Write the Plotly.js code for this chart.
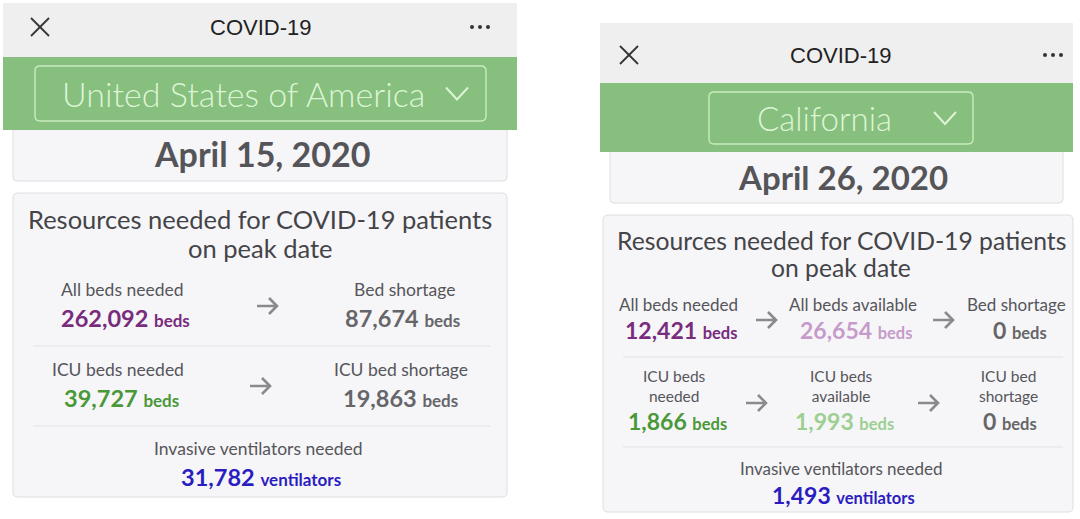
<!DOCTYPE html>
<html>
<head>
<meta charset="utf-8">
<script src="https://cdn.plot.ly/plotly-3.0.1.min.js"></script>
<style>
  html, body { margin: 0; padding: 0; background: #ffffff; }
  #chart { width: 1080px; height: 519px; }
</style>
</head>
<body>
<div id="chart"></div>
<script>
// ---------------- DATA ----------------
const appTitle = 'COVID-19';
const regions = ['United States of America', 'California'];
const peakDates = ['April 15, 2020', 'April 26, 2020'];
const cardTitle = ['Resources needed for COVID-19 patients', 'on peak date'];

const usBedLabels = ['All beds needed', 'Bed shortage'];
const usBedValues = [262092, 87674];
const usIcuLabels = ['ICU beds needed', 'ICU bed shortage'];
const usIcuValues = [39727, 19863];
const usVentLabel = 'Invasive ventilators needed';
const usVentValue = 31782;

const caBedLabels = ['All beds needed', 'All beds available', 'Bed shortage'];
const caBedValues = [12421, 26654, 0];
const caIcuLabels = ['ICU beds<br>needed', 'ICU beds<br>available', 'ICU bed<br>shortage'];
const caIcuValues = [1866, 1993, 0];
const caVentLabel = 'Invasive ventilators needed';
const caVentValue = 1493;

const bedUnit = 'beds';
const ventUnit = 'ventilators';

// ---------------- STYLE / LAYOUT ----------------
const FONT = 'Lato, "Open Sans", sans-serif';
const C = {
  bar: '#efeff0', green: '#86bf7e', boxLine: '#c9ecc0', boxText: '#def5d5',
  card: '#f6f6f8', cardLine: '#dedee2', sep: '#e2e2e6',
  title: '#444448', label: '#55555a', date: '#555559',
  purple: '#792b7d', lpurple: '#c69bcb', dgreen: '#4a9838', lgreen: '#9dcf93',
  gray: '#66666a', blue: '#2b1dbf', arrow: '#8a8a8e'
};
const fmt = v => v.toLocaleString('en-US');

const shapes = [];
const annotations = [];

function rect(x0, y0, x1, y1, fill, line, lw, r) {
  if (r) {
    const p = `M${x0 + r},${y0} L${x1 - r},${y0} Q${x1},${y0} ${x1},${y0 + r} L${x1},${y1 - r} Q${x1},${y1} ${x1 - r},${y1} L${x0 + r},${y1} Q${x0},${y1} ${x0},${y1 - r} L${x0},${y0 + r} Q${x0},${y0} ${x0 + r},${y0} Z`;
    shapes.push({ type: 'path', xref: 'x', yref: 'y', path: p, fillcolor: fill, line: { color: line || 'rgba(0,0,0,0)', width: lw || 0 }, layer: 'below' });
  } else {
    shapes.push({ type: 'rect', xref: 'x', yref: 'y', x0, y0, x1, y1, fillcolor: fill, line: { color: line || 'rgba(0,0,0,0)', width: lw || 0 }, layer: 'below' });
  }
}
function line(x0, y0, x1, y1, color, w) {
  shapes.push({ type: 'line', xref: 'x', yref: 'y', x0, y0, x1, y1, line: { color, width: w } });
}
function path(p, color, w) {
  shapes.push({ type: 'path', xref: 'x', yref: 'y', path: p, line: { color, width: w }, fillcolor: 'rgba(0,0,0,0)' });
}
function text(x, y, t, size, color, weight, family) {
  annotations.push({ xref: 'x', yref: 'y', x, y, text: t, showarrow: false, xanchor: 'center', yanchor: 'middle',
    font: { family: family || FONT, size, color, weight: weight || 400 } });
}
function value(x, y, v, unit, color, numSize, unitSize) {
  text(x, y, `<b>${fmt(v)}</b> <span style="font-size:${unitSize}px;font-weight:bold">${unit}</span>`, numSize, color, 700);
}
function arrow(x, y) {
  path(`M${x - 10},${y} L${x + 10},${y} M${x + 2},${y - 8} L${x + 10},${y} L${x + 2},${y + 8}`, C.arrow, 2.6);
}

// ---- panel header builder
function header(p) {
  // date card first (its top is hidden under the green band)
  rect(p.x0 + 10, p.yBandEnd - 8, p.x1 - 10, p.dateY1, C.card, C.cardLine, 1, 4);
  rect(p.x0, p.y0, p.x1, p.yBand, C.bar);
  rect(p.x0, p.yBand, p.x1, p.yBandEnd, C.green);
  // close X
  const xx = p.closeX, xy = p.iconY;
  line(xx - 9, xy - 9, xx + 9, xy + 9, '#333', 1.8);
  line(xx - 9, xy + 9, xx + 9, xy - 9, '#333', 1.8);
  // dots
  for (let i = 0; i < 3; i++) {
    const cx = p.dotsX + (i - 1) * 8;
    shapes.push({ type: 'circle', xref: 'x', yref: 'y', x0: cx - 2, x1: cx + 2, y0: xy - 2, y1: xy + 2, fillcolor: '#333', line: { width: 0 } });
  }
  text(p.titleX, xy, appTitle, 22, '#222', 400, '"Liberation Sans", Arimo, sans-serif');
  // region selector box
  const b = p.box;
  rect(b.x0, b.y0, b.x1, b.y1, 'rgba(0,0,0,0)', C.boxLine, 1.4, 5);
  const cy = (b.y0 + b.y1) / 2;
  text(p.regionX, cy, p.region, p.regionSize, C.boxText, 300);
  path(`M${p.chevX - 11},${cy - 6} L${p.chevX},${cy + 6} L${p.chevX + 11},${cy - 6}`, C.boxText, 2);
  // date
  text(p.dateX, p.dateY, `<b>${p.date}</b>`, p.dateSize, C.date, 700);
}

// ===== LEFT PANEL (USA)
header({ x0: 3, x1: 517, y0: 3, yBand: 57, yBandEnd: 130, dateY1: 181,
  closeX: 40, dotsX: 480, iconY: 27, titleX: 260,
  box: { x0: 35, y0: 66, x1: 486, y1: 121 }, region: regions[0], regionX: 243, regionSize: 34, chevX: 457,
  date: peakDates[0], dateX: 262, dateY: 153, dateSize: 34 });
rect(13, 193, 507, 497, C.card, C.cardLine, 1, 5);
text(260, 219, cardTitle[0], 25.5, C.title, 400);
text(260, 248, cardTitle[1], 25.5, C.title, 400);
// row 1
const usX = [122, 405];
usBedLabels.forEach((l, i) => text(usX[i], 289, l, 17.5, C.label));
value(125, 318, usBedValues[0], bedUnit, C.purple, 23.5, 17);
value(402, 318, usBedValues[1], bedUnit, C.gray, 23.5, 17);
arrow(267, 306);
line(33, 346, 490, 346, C.sep, 1);
// row 2
const usX2 = [118, 401];
usIcuLabels.forEach((l, i) => text(usX2[i], 369, l, 17.5, C.label));
value(121, 398, usIcuValues[0], bedUnit, C.dgreen, 23.5, 17);
value(400, 398, usIcuValues[1], bedUnit, C.gray, 23.5, 17);
arrow(260, 386);
line(33, 426, 490, 426, C.sep, 1);
text(258, 448, usVentLabel, 17.5, C.label);
value(261, 477, usVentValue, ventUnit, C.blue, 23.5, 17);

// ===== RIGHT PANEL (California)
header({ x0: 600, x1: 1073, y0: 23, yBand: 83, yBandEnd: 152, dateY1: 203,
  closeX: 629, dotsX: 1053, iconY: 55, titleX: 840,
  box: { x0: 709, y0: 92, x1: 973, y1: 144 }, region: regions[1], regionX: 824, regionSize: 33, chevX: 945,
  date: peakDates[1], dateX: 843, dateY: 177, dateSize: 33 });
rect(603, 215, 1073, 512, C.card, C.cardLine, 1, 5);
text(841, 240, cardTitle[0], 24.7, C.title, 400);
text(841, 267, cardTitle[1], 24.7, C.title, 400);
// row 1
const caLX = [678, 853, 1016];
const caVX = [681, 856, 1020];
const caBedColors = [C.purple, C.lpurple, C.gray];
caBedLabels.forEach((l, i) => text(caLX[i], 304, l, 17, C.label));
caBedValues.forEach((v, i) => value(caVX[i], 330, v, bedUnit, caBedColors[i], 23, 16.5));
arrow(766, 320);
arrow(943, 320);
line(623, 357, 1063, 357, C.sep, 1);
// row 2
const caLX2 = [674, 841, 1008];
const caVX2 = [677, 844, 1010];
const caIcuColors = [C.dgreen, C.lgreen, C.gray];
caIcuLabels.forEach((l, i) => text(caLX2[i], 386, l, 15.5, C.label));
caIcuValues.forEach((v, i) => value(caVX2[i], 421, v, bedUnit, caIcuColors[i], 23, 16.5));
arrow(756, 403);
arrow(928, 403);
line(623, 447, 1063, 447, C.sep, 1);
text(841, 468, caVentLabel, 17, C.label);
value(843, 495, caVentValue, ventUnit, C.blue, 23, 16.5);

const layout = {
  width: 1080, height: 519,
  margin: { l: 0, r: 0, t: 0, b: 0 },
  paper_bgcolor: '#ffffff', plot_bgcolor: '#ffffff',
  xaxis: { range: [0, 1080], visible: false, fixedrange: true },
  yaxis: { range: [519, 0], visible: false, fixedrange: true },
  showlegend: false,
  shapes, annotations
};
Plotly.newPlot('chart', [{ x: [], y: [], type: 'scatter', hoverinfo: 'skip' }], layout, { displayModeBar: false, staticPlot: true });
</script>
</body>
</html>
